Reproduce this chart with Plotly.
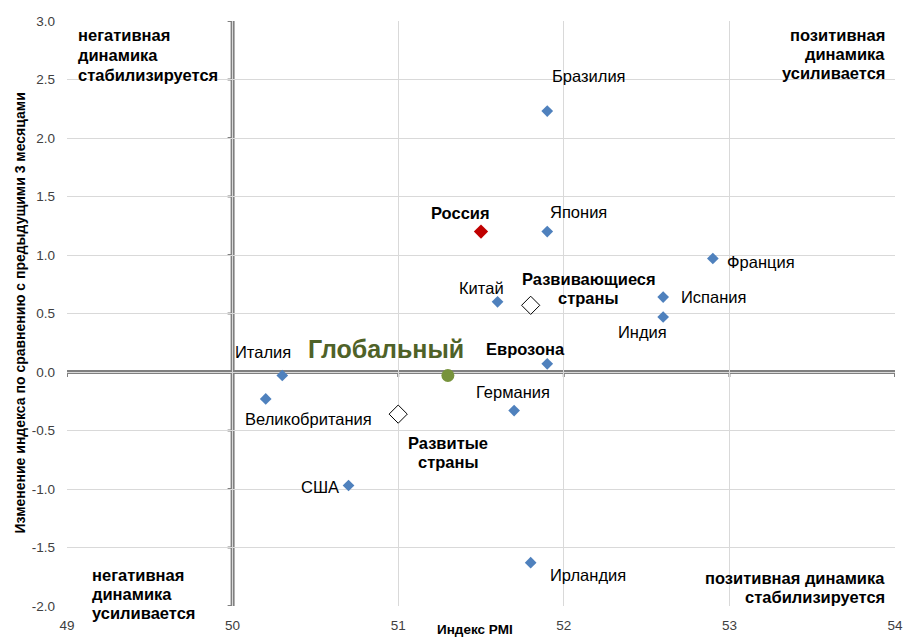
import plotly.graph_objects as go

# PMI level vs. 3-month change, by country
countries = ["Бразилия", "Япония", "Франция", "Испания", "Индия", "Китай",
             "Еврозона", "Италия", "Великобритания", "Германия", "США", "Ирландия"]
pmi = [51.9, 51.9, 52.9, 52.6, 52.6, 51.6, 51.9, 50.3, 50.2, 51.7, 50.7, 51.8]
change = [2.23, 1.20, 0.97, 0.64, 0.47, 0.60, 0.07, -0.03, -0.23, -0.33, -0.97, -1.63]

russia_pmi, russia_change = [51.5], [1.20]
groups = [["Развивающиеся", "страны"], ["Развитые", "страны"]]
groups_pmi = [51.8, 51.0]
groups_change = [0.57, -0.36]
global_pmi, global_change = [51.3], [-0.03]

x_ticks = [49, 50, 51, 52, 53, 54]
y_ticks = [-2.0, -1.5, -1.0, -0.5, 0.0, 0.5, 1.0, 1.5, 2.0, 2.5, 3.0]

# label placement (pixel offsets from the point)
label_style = {
    "Бразилия": ("left", 3, 35),
    "Япония": ("left", 1, 20),
    "Франция": ("left", 12, -3),
    "Испания": ("left", 16, 0),
    "Индия": ("center", -21, -15),
    "Китай": ("center", -16, 14),
    "Еврозона": ("center", -22, 15),
    "Италия": ("center", -19, 24),
    "Великобритания": ("center", 43, -20),
    "Германия": ("center", -1, 19),
    "США": ("center", -29, -2),
    "Ирландия": ("left", 17, -12),
}
bold_labels = {"Еврозона"}
# per-line offsets for the two-line group labels
group_offsets = [[(58, 26), (58, 7)], [(50, -29), (50, -48)]]

FONT = "Liberation Sans, Arial, sans-serif"
LBL = 16.5
AXIS_GREY = "#808080"

fig = go.Figure()
fig.add_trace(go.Scatter(x=pmi, y=change, mode="markers",
                         marker=dict(symbol="diamond", size=9, color="#4F81BD"),
                         hoverinfo="skip"))
fig.add_trace(go.Scatter(x=groups_pmi, y=groups_change, mode="markers",
                         marker=dict(symbol="diamond", size=14, color="white",
                                     line=dict(color="black", width=1)),
                         hoverinfo="skip"))
fig.add_trace(go.Scatter(x=russia_pmi, y=russia_change, mode="markers",
                         marker=dict(symbol="diamond", size=11, color="#C00000"),
                         hoverinfo="skip"))
fig.add_trace(go.Scatter(x=global_pmi, y=global_change, mode="markers",
                         marker=dict(symbol="circle", size=13, color="#77933C"),
                         hoverinfo="skip"))

# thick quadrant axes at PMI = 50 and change = 0
fig.add_shape(type="line", x0=50, x1=50, y0=y_ticks[0], y1=y_ticks[-1],
              xref="x", yref="y", line=dict(color=AXIS_GREY, width=4), layer="below")
fig.add_shape(type="line", x0=x_ticks[0], x1=x_ticks[-1], y0=0, y1=0,
              xref="x", yref="y", line=dict(color=AXIS_GREY, width=4), layer="below")
# small tick stubs on the quadrant axes
for yv in y_ticks:
    fig.add_shape(type="line", xref="x", yref="y", xsizemode="pixel", xanchor=50,
                  x0=-5, x1=0, y0=yv, y1=yv, line=dict(color=AXIS_GREY, width=2), layer="below")
for xv in x_ticks:
    fig.add_shape(type="line", xref="x", yref="y", ysizemode="pixel", yanchor=0,
                  x0=xv, x1=xv, y0=-5, y1=0, line=dict(color=AXIS_GREY, width=2), layer="below")

annotations = []
for name, xv, yv in zip(countries, pmi, change):
    anchor, dx, dy = label_style[name]
    txt = f"<b>{name}</b>" if name in bold_labels else name
    annotations.append(dict(x=xv, y=yv, xref="x", yref="y", text=txt, showarrow=False,
                            xanchor=anchor, yanchor="middle", xshift=dx, yshift=dy,
                            font=dict(size=LBL, color="black", family=FONT)))

annotations.append(dict(x=russia_pmi[0], y=russia_change[0], text="<b>Россия</b>",
                        showarrow=False, xanchor="center", yanchor="middle",
                        xshift=-21, yshift=19, font=dict(size=LBL, color="black", family=FONT)))
for lines, xv, yv, offs in zip(groups, groups_pmi, groups_change, group_offsets):
    for line, (dx, dy) in zip(lines, offs):
        annotations.append(dict(x=xv, y=yv, text=f"<b>{line}</b>", showarrow=False,
                                xanchor="center", yanchor="middle", xshift=dx, yshift=dy,
                                font=dict(size=LBL, color="black", family=FONT)))
annotations.append(dict(x=global_pmi[0], y=global_change[0], text="<b>Глобальный</b>",
                        showarrow=False, xanchor="center", yanchor="middle",
                        xshift=-62, yshift=27, font=dict(size=25, color="#4F6228", family=FONT)))

# quadrant captions, one annotation per line
corner_font = dict(size=LBL, color="black", family=FONT)
corners = [
    (49, 3, "left", 9, ["негативная", "динамика", "стабилизируется"], [-14, -34, -54]),
    (54, 3, "right", -8, ["позитивная", "динамика", "усиливается"], [-14, -33, -52]),
    (49, -2, "left", 23, ["негативная", "динамика", "усиливается"], [31, 12, -7]),
    (54, -2, "right", -8, ["позитивная динамика", "стабилизируется"], [28, 9]),
]
for cx, cy, anchor, dx, lines, dys in corners:
    for line, dy in zip(lines, dys):
        annotations.append(dict(x=cx, y=cy, text=f"<b>{line}</b>", showarrow=False,
                                xanchor=anchor, yanchor="middle", xshift=dx, yshift=dy,
                                font=corner_font))

# axis titles
annotations += [
    dict(x=0.5, y=0, xref="paper", yref="paper", text="<b>Индекс PMI</b>", showarrow=False,
         xanchor="center", yanchor="middle", yshift=-23, xshift=-6,
         font=dict(size=13.5, color="black", family=FONT)),
    dict(x=0, y=0.5, xref="paper", yref="paper",
         text="<b>Изменение индекса по сравнению с предыдущими 3 месяцами</b>",
         showarrow=False, textangle=-90, xanchor="center", yanchor="middle",
         xshift=-48, yshift=0, font=dict(size=14, color="black", family=FONT)),
]

fig.update_layout(
    width=903, height=637,
    margin=dict(l=67, r=8, t=21, b=31, autoexpand=False),
    paper_bgcolor="white", plot_bgcolor="white",
    showlegend=False,
    font=dict(family=FONT, size=13.5, color="#404040"),
    annotations=annotations,
    xaxis=dict(range=[49, 54], tickvals=x_ticks, ticktext=[str(v) for v in x_ticks],
               showgrid=True, gridcolor="#D9D9D9", gridwidth=1, zeroline=False,
               showline=False, ticks="", ticklabelstandoff=9, automargin=False,
               tickfont=dict(size=13.5, color="#404040")),
    yaxis=dict(range=[-2, 3], tickvals=y_ticks, ticktext=[f"{v:.1f}" for v in y_ticks],
               showgrid=True, gridcolor="#D9D9D9", gridwidth=1, zeroline=False,
               showline=False, ticks="", ticklabelstandoff=11, automargin=False,
               tickfont=dict(size=13.5, color="#404040")),
)

fig.write_html("out.html")
